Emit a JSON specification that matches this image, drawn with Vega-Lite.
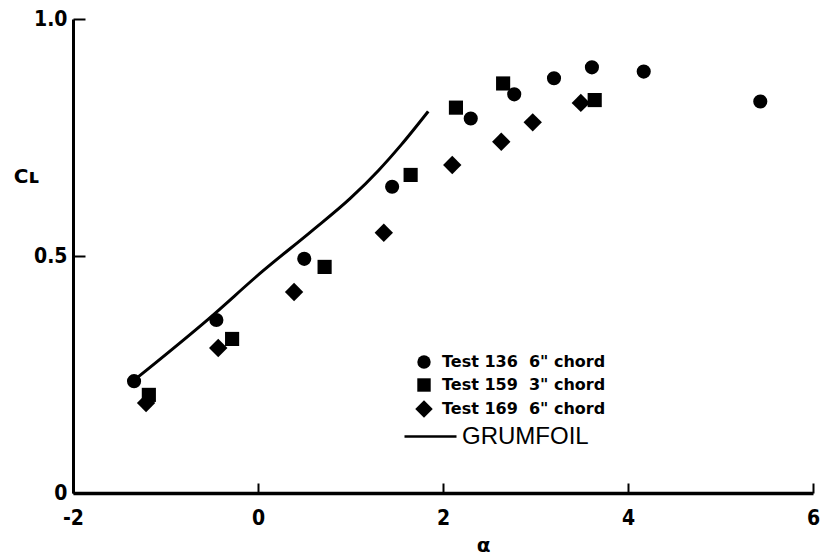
{
  "$schema": "https://vega.github.io/schema/vega-lite/v6.json",
  "width": 740,
  "height": 474,
  "autosize": "none",
  "padding": {"left": 73, "top": 19, "right": 21, "bottom": 63},
  "background": "white",
  "config": {"view": {"stroke": null}, "font": "Liberation Sans"},
  "datasets": {
    "points": [
      {"alpha": -1.34, "cl": 0.236, "test": "Test 136\u00a0\u00a06\" chord"},
      {"alpha": -0.45, "cl": 0.365, "test": "Test 136\u00a0\u00a06\" chord"},
      {"alpha": 0.50, "cl": 0.494, "test": "Test 136\u00a0\u00a06\" chord"},
      {"alpha": 1.45, "cl": 0.646, "test": "Test 136\u00a0\u00a06\" chord"},
      {"alpha": 2.30, "cl": 0.790, "test": "Test 136\u00a0\u00a06\" chord"},
      {"alpha": 2.77, "cl": 0.841, "test": "Test 136\u00a0\u00a06\" chord"},
      {"alpha": 3.20, "cl": 0.875, "test": "Test 136\u00a0\u00a06\" chord"},
      {"alpha": 3.61, "cl": 0.898, "test": "Test 136\u00a0\u00a06\" chord"},
      {"alpha": 4.17, "cl": 0.889, "test": "Test 136\u00a0\u00a06\" chord"},
      {"alpha": 5.43, "cl": 0.826, "test": "Test 136\u00a0\u00a06\" chord"},
      {"alpha": -1.18, "cl": 0.207, "test": "Test 159\u00a0\u00a03\" chord"},
      {"alpha": -0.28, "cl": 0.325, "test": "Test 159\u00a0\u00a03\" chord"},
      {"alpha": 0.72, "cl": 0.477, "test": "Test 159\u00a0\u00a03\" chord"},
      {"alpha": 1.65, "cl": 0.671, "test": "Test 159\u00a0\u00a03\" chord"},
      {"alpha": 2.14, "cl": 0.813, "test": "Test 159\u00a0\u00a03\" chord"},
      {"alpha": 2.65, "cl": 0.864, "test": "Test 159\u00a0\u00a03\" chord"},
      {"alpha": 3.64, "cl": 0.829, "test": "Test 159\u00a0\u00a03\" chord"},
      {"alpha": -1.21, "cl": 0.190, "test": "Test 169\u00a0\u00a06\" chord"},
      {"alpha": -0.43, "cl": 0.306, "test": "Test 169\u00a0\u00a06\" chord"},
      {"alpha": 0.39, "cl": 0.424, "test": "Test 169\u00a0\u00a06\" chord"},
      {"alpha": 1.36, "cl": 0.549, "test": "Test 169\u00a0\u00a06\" chord"},
      {"alpha": 2.10, "cl": 0.692, "test": "Test 169\u00a0\u00a06\" chord"},
      {"alpha": 2.63, "cl": 0.741, "test": "Test 169\u00a0\u00a06\" chord"},
      {"alpha": 2.97, "cl": 0.782, "test": "Test 169\u00a0\u00a06\" chord"},
      {"alpha": 3.49, "cl": 0.823, "test": "Test 169\u00a0\u00a06\" chord"}
    ],
    "grumfoil": [
      {"alpha": -1.34, "cl": 0.238, "series": "GRUMFOIL"},
      {"alpha": -0.53, "cl": 0.368, "series": "GRUMFOIL"},
      {"alpha": 0.05, "cl": 0.468, "series": "GRUMFOIL"},
      {"alpha": 0.57, "cl": 0.551, "series": "GRUMFOIL"},
      {"alpha": 1.0, "cl": 0.622, "series": "GRUMFOIL"},
      {"alpha": 1.3, "cl": 0.680, "series": "GRUMFOIL"},
      {"alpha": 1.55, "cl": 0.735, "series": "GRUMFOIL"},
      {"alpha": 1.84, "cl": 0.805, "series": "GRUMFOIL"}
    ]
  },
  "layer": [
    {
      "mark": {"type": "rule", "color": "black", "strokeWidth": 2},
      "encoding": {
        "x": {"datum": 0, "type": "quantitative", "scale": {"domain": [-2, 6], "nice": false, "zero": false}}
      }
    },
    {
      "data": {"name": "grumfoil"},
      "mark": {"type": "line", "strokeWidth": 3, "interpolate": "monotone"},
      "encoding": {
        "x": {"field": "alpha", "type": "quantitative"},
        "y": {"field": "cl", "type": "quantitative"},
        "color": {
          "field": "series", "type": "nominal",
          "scale": {"range": ["black"]},
          "legend": {
            "title": null, "orient": "none", "legendX": 330, "legendY": 390,
            "symbolType": "stroke", "symbolSize": 2704, "symbolStrokeWidth": 2.5,
            "labelFont": "Liberation Sans", "labelFontSize": 24, "labelColor": "black", "labelOffset": 4, "labelLimit": 300
          }
        }
      }
    },
    {
      "data": {"name": "points"},
      "mark": {"type": "point", "filled": true, "color": "black", "opacity": 1, "size": 200},
      "encoding": {
        "x": {
          "field": "alpha", "type": "quantitative",
          "scale": {"domain": [-2, 6], "nice": false, "zero": false},
          "axis": {
            "values": [-2, 0, 2, 4, 6], "labelExpr": "'' + datum.value", "title": "α", "titleX": 410, "titleY": 52,
            "titleAlign": "center", "titleBaseline": "middle",
            "titleFont": "DejaVu Sans", "titleFontSize": 20, "titleFontWeight": "bold", "titleColor": "black",
            "labelFont": "DejaVu Sans Condensed, Roboto Condensed, DejaVu Sans", "labelFontSize": 21, "labelFontWeight": "bold", "labelColor": "black",
            "labelPadding": 24, "labelFlush": false, "labelOverlap": false,
            "tickSize": -10, "tickWidth": 2, "tickColor": "black",
            "domainColor": "black", "domainWidth": 3.5, "grid": false
          }
        },
        "y": {
          "field": "cl", "type": "quantitative",
          "scale": {"domain": [0, 1], "nice": false},
          "axis": {
            "values": [0, 0.5, 1], "labelExpr": "datum.value == 0 ? '0' : format(datum.value, '.1f')",
            "title": "Cʟ", "titleAngle": 0, "titleX": -47, "titleY": 157,
            "titleAlign": "center", "titleBaseline": "middle",
            "titleFont": "DejaVu Sans", "titleFontSize": 20, "titleFontWeight": "bold", "titleColor": "black",
            "labelFont": "DejaVu Sans Condensed, Roboto Condensed, DejaVu Sans", "labelFontSize": 21, "labelFontWeight": "bold", "labelColor": "black",
            "labelPadding": 18, "labelFlush": false, "labelOverlap": false,
            "tickSize": -12, "tickWidth": 2, "tickColor": "black",
            "domainColor": "black", "domainWidth": 3, "grid": false
          }
        },
        "shape": {
          "field": "test", "type": "nominal",
          "scale": {"range": ["circle", "square", "M-1.3,0L0,-1.3L1.3,0L0,1.3Z"]},
          "legend": {
            "title": null, "orient": "none", "legendX": 343, "legendY": 335,
            "symbolSize": 180, "symbolFillColor": "black", "symbolStrokeColor": "black", "symbolStrokeWidth": 0,
            "labelFont": "DejaVu Sans", "labelFontSize": 16, "labelFontWeight": "bold", "labelColor": "black",
            "labelOffset": 10, "rowPadding": 7, "labelLimit": 300
          }
        }
      }
    }
  ]
}
